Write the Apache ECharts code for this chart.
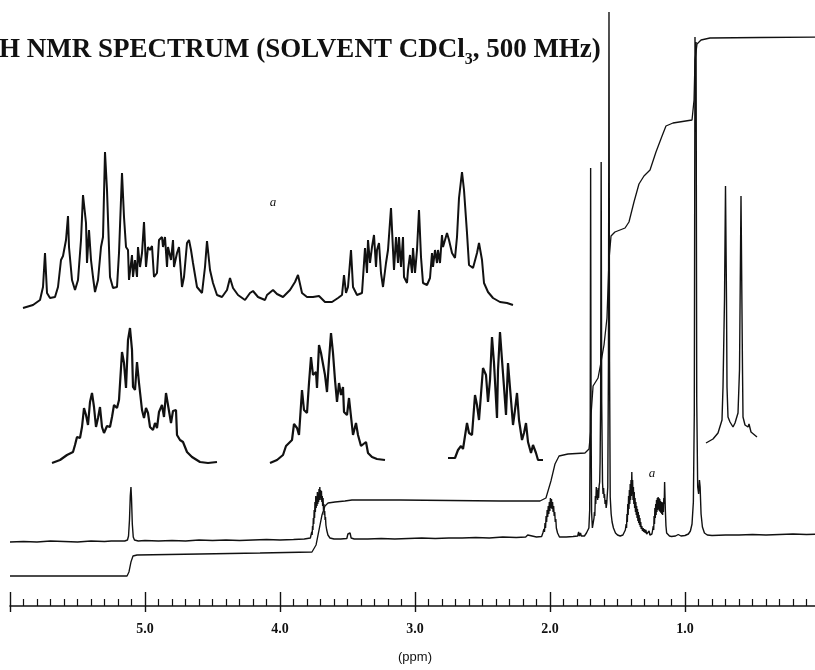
<!DOCTYPE html>
<html>
<head>
<meta charset="utf-8">
<script src="https://cdn.jsdelivr.net/npm/echarts@6/dist/echarts.min.js"></script>
<style>
  html, body { margin: 0; padding: 0; background: #fff; }
  #chart { width: 815px; height: 670px; }
</style>
</head>
<body>
<div id="chart"></div>
<script>
// ppm tick labels on the chemical-shift axis
const ppmTicks = [5.0, 4.0, 3.0, 2.0, 1.0];

// Full 1H spectrum: [shift / ppm, intensity]
const spectrum = [
  [6.00, 0], [5.90, 0.5], [5.80, 0], [5.70, 1], [5.60, 0.5], [5.50, 0], [5.40, 1], [5.30, 0.5],
  [5.25, 1], [5.15, 1], [5.130, 2], [5.122, 6], [5.115, 22], [5.109, 46], [5.104, 55], [5.100, 44],
  [5.094, 18], [5.087, 5], [5.078, 2], [5.05, 1], [5.00, 1.5], [4.90, 1], [4.80, 1.5], [4.70, 1],
  [4.60, 2], [4.50, 1.5], [4.40, 2], [4.30, 1.5], [4.20, 2], [4.10, 2.5], [4.00, 2], [3.90, 2.5],
  [3.82, 3], [3.775, 4],
  [3.768, 6], [3.765, 10], [3.762, 7], [3.759, 16], [3.756, 12], [3.753, 24], [3.750, 18], [3.747, 32],
  [3.744, 24], [3.741, 40], [3.738, 30], [3.735, 46], [3.732, 34], [3.729, 44], [3.726, 36], [3.723, 50],
  [3.720, 38], [3.717, 48], [3.714, 40], [3.711, 53], [3.708, 42], [3.705, 55], [3.702, 44], [3.699, 52],
  [3.696, 42], [3.693, 51], [3.690, 40], [3.687, 46], [3.684, 36], [3.681, 44], [3.678, 32], [3.675, 38],
  [3.672, 27], [3.669, 31], [3.666, 22], [3.663, 25], [3.660, 17], [3.657, 19], [3.654, 12], [3.650, 10],
  [3.645, 7], [3.638, 5], [3.630, 4],
  [3.60, 3], [3.55, 3], [3.505, 3.5], [3.497, 8],
  [3.489, 10], [3.481, 9], [3.473, 4], [3.45, 3], [3.35, 3], [3.25, 3.5], [3.15, 3], [3.05, 3.5],
  [2.95, 4], [2.85, 3.5], [2.75, 4], [2.65, 4], [2.55, 4.5], [2.45, 4], [2.35, 5], [2.25, 4.5],
  [2.18, 5], [2.165, 7], [2.155, 5], [2.10, 5], [2.062, 5.5],
  [2.058, 6], [2.053, 9], [2.049, 7], [2.045, 13], [2.041, 10], [2.037, 19], [2.033, 14], [2.029, 26],
  [2.025, 20], [2.021, 32], [2.017, 25], [2.013, 36], [2.009, 28], [2.005, 40], [2.001, 31], [1.997, 44],
  [1.993, 34], [1.989, 43], [1.985, 33], [1.981, 40], [1.977, 30], [1.973, 36], [1.969, 26], [1.965, 30],
  [1.961, 20], [1.957, 23], [1.953, 14], [1.949, 15], [1.944, 9], [1.938, 7], [1.930, 5],
  [1.88, 5], [1.83, 5.5], [1.795, 6],
  [1.788, 10], [1.782, 6], [1.774, 9], [1.768, 6], [1.756, 8], [1.745, 6], [1.730, 9], [1.720, 10],
  [1.712, 14], [1.706, 32], [1.702, 130], [1.699, 374], [1.696, 130], [1.692, 30], [1.686, 14],
  [1.678, 16], [1.674, 24], [1.671, 30], [1.668, 26], [1.664, 46], [1.661, 38], [1.657, 55], [1.654, 44],
  [1.650, 52], [1.647, 42], [1.643, 54], [1.640, 44], [1.636, 56], [1.632, 60], [1.629, 80],
  [1.625, 140], [1.621, 380], [1.617, 140], [1.611, 60], [1.607, 48], [1.603, 54], [1.599, 44], [1.596, 48],
  [1.592, 38], [1.588, 42], [1.584, 34], [1.580, 38],
  [1.572, 55], [1.567, 180], [1.563, 530], [1.559, 180], [1.554, 45], [1.547, 28], [1.540, 20], [1.530, 14],
  [1.515, 9], [1.500, 7], [1.480, 6], [1.460, 7],
  [1.446, 8], [1.442, 12], [1.439, 10], [1.436, 18], [1.433, 14], [1.430, 28], [1.427, 20], [1.424, 38],
  [1.421, 27], [1.418, 46], [1.415, 33], [1.412, 52], [1.409, 38], [1.406, 58], [1.403, 42], [1.400, 62],
  [1.397, 46], [1.394, 70], [1.391, 48], [1.388, 62], [1.385, 42], [1.382, 55], [1.379, 38], [1.376, 50],
  [1.373, 34], [1.370, 44], [1.367, 30], [1.364, 40], [1.361, 27], [1.358, 36], [1.355, 24], [1.352, 33],
  [1.349, 21], [1.346, 30], [1.343, 19], [1.340, 27], [1.337, 17], [1.334, 24], [1.331, 15], [1.328, 20],
  [1.324, 13], [1.320, 16], [1.315, 11], [1.310, 14], [1.305, 10], [1.300, 13], [1.295, 9], [1.290, 12],
  [1.284, 8], [1.278, 10], [1.272, 7], [1.266, 11], [1.260, 7], [1.252, 8],
  [1.245, 8], [1.241, 11], [1.238, 9], [1.235, 16], [1.232, 12], [1.229, 26], [1.226, 18], [1.223, 34],
  [1.220, 24], [1.217, 38], [1.214, 27], [1.211, 42], [1.208, 30], [1.205, 44], [1.202, 32], [1.199, 45],
  [1.196, 33], [1.193, 44], [1.190, 31], [1.187, 43], [1.184, 30], [1.181, 41], [1.178, 29], [1.175, 40],
  [1.172, 28], [1.169, 39], [1.166, 27], [1.163, 40], [1.160, 30], [1.157, 44], [1.154, 38], [1.151, 60],
  [1.148, 44], [1.145, 30], [1.141, 16], [1.136, 9], [1.128, 7], [1.115, 6],
  [1.100, 5.5], [1.070, 6], [1.050, 7.5], [1.030, 6], [1.000, 6.5],
  [0.975, 8], [0.960, 11], [0.948, 18], [0.938, 40], [0.931, 130], [0.926, 505], [0.922, 420], [0.918, 500],
  [0.913, 140], [0.906, 55], [0.899, 48], [0.893, 62], [0.888, 55], [0.881, 28], [0.871, 15], [0.856, 9],
  [0.835, 7], [0.80, 6.5], [0.70, 7], [0.60, 7], [0.50, 7.5], [0.40, 7], [0.30, 7.5], [0.20, 8],
  [0.10, 7.5], [0.00, 8]
];

// Running integral over the full spectrum: [shift / ppm, integral height]
const integral = [
  [6.00, -34], [5.133, -34], [5.119, -30], [5.104, -20], [5.089, -14], [5.059, -13], [4.593, -12],
  [4.148, -11], [3.763, -10], [3.733, -3], [3.711, 12], [3.689, 27], [3.667, 36], [3.644, 39],
  [3.593, 40], [3.519, 41], [3.467, 42], [3.111, 42], [2.370, 41], [2.074, 41], [2.030, 44],
  [1.993, 61], [1.963, 78], [1.933, 86], [1.867, 88], [1.741, 89], [1.711, 93], [1.699, 110],
  [1.696, 127], [1.681, 156], [1.644, 164], [1.622, 180], [1.600, 197], [1.578, 224], [1.563, 282],
  [1.548, 306], [1.519, 310], [1.444, 314], [1.415, 320], [1.378, 340], [1.341, 358], [1.304, 366],
  [1.259, 372], [1.215, 390], [1.170, 406], [1.141, 416], [1.089, 419], [0.948, 422], [0.933, 442],
  [0.926, 482], [0.911, 498], [0.881, 502], [0.815, 504], [0.444, 504.5], [0.000, 505]
];

// Expansion "a": 1.50-1.01 ppm, [shift / ppm, intensity]
const expansionA = [
  [1.500, 0], [1.490, 3], [1.483, 8], [1.480, 21], [1.478, 55], [1.476, 15], [1.473, 10], [1.468, 11],
  [1.465, 21], [1.462, 48], [1.460, 52], [1.457, 68], [1.455, 92], [1.454, 61], [1.451, 28], [1.448, 18],
  [1.445, 28], [1.442, 68], [1.440, 113], [1.437, 85], [1.436, 45], [1.434, 78], [1.432, 48], [1.430, 31],
  [1.428, 16], [1.425, 28], [1.422, 61], [1.420, 71], [1.418, 156], [1.416, 118], [1.413, 31], [1.410, 20],
  [1.406, 21], [1.404, 55], [1.401, 135], [1.399, 91], [1.397, 61], [1.395, 58], [1.394, 28], [1.391, 53],
  [1.390, 31], [1.388, 48], [1.386, 31], [1.385, 61], [1.383, 41], [1.381, 55], [1.379, 86], [1.377, 41],
  [1.375, 61], [1.373, 58], [1.371, 62], [1.369, 31], [1.366, 35], [1.364, 68], [1.361, 71], [1.360, 61],
  [1.358, 71], [1.356, 41], [1.355, 61], [1.352, 48], [1.350, 68], [1.349, 41], [1.346, 55], [1.344, 61],
  [1.341, 21], [1.339, 31], [1.336, 65], [1.334, 68], [1.332, 58], [1.330, 45], [1.326, 21], [1.321, 15],
  [1.318, 41], [1.316, 67], [1.313, 38], [1.310, 25], [1.306, 13], [1.301, 11], [1.296, 18], [1.293, 30],
  [1.290, 20], [1.285, 13], [1.278, 8], [1.273, 15], [1.270, 17], [1.265, 11], [1.258, 8], [1.256, 13],
  [1.250, 18], [1.246, 14], [1.240, 11], [1.233, 18], [1.228, 26], [1.225, 33], [1.221, 15], [1.216, 11],
  [1.210, 11], [1.204, 12], [1.198, 6], [1.191, 6], [1.185, 10], [1.181, 13], [1.179, 33], [1.177, 15],
  [1.175, 21], [1.172, 58], [1.170, 21], [1.166, 13], [1.161, 15], [1.158, 60], [1.156, 35], [1.155, 68],
  [1.153, 45], [1.151, 61], [1.149, 73], [1.147, 41], [1.146, 58], [1.144, 65], [1.142, 35], [1.140, 21],
  [1.137, 45], [1.135, 58], [1.132, 100], [1.130, 58], [1.129, 38], [1.127, 71], [1.125, 45], [1.124, 71],
  [1.122, 41], [1.120, 71], [1.119, 31], [1.116, 25], [1.115, 38], [1.113, 53], [1.111, 35], [1.110, 60],
  [1.108, 35], [1.106, 58], [1.104, 98], [1.102, 51], [1.100, 25], [1.096, 23], [1.093, 30], [1.091, 55],
  [1.090, 41], [1.088, 58], [1.086, 45], [1.085, 58], [1.083, 45], [1.081, 73], [1.080, 61], [1.078, 68],
  [1.076, 75], [1.074, 68], [1.071, 55], [1.068, 50], [1.066, 71], [1.064, 110], [1.062, 111], [1.061, 136],
  [1.059, 118], [1.056, 75], [1.054, 43], [1.050, 40], [1.046, 55], [1.044, 65], [1.041, 48], [1.039, 25],
  [1.035, 16], [1.030, 10], [1.023, 6], [1.016, 5], [1.010, 3]
];

// Expanded multiplets: [offset / Hz, intensity]
const multiplet510 = [
  [0, 1], [1.6, 4], [3.0, 9], [4.2, 12], [4.6, 19], [5.0, 27], [5.6, 26], [6.0, 37], [6.4, 56], [6.8, 49],
  [7.2, 39], [7.6, 62], [8.0, 71], [8.4, 57], [8.8, 37], [9.2, 46], [9.6, 57], [10.0, 37], [10.4, 31],
  [11.0, 38], [11.6, 37], [12.0, 47], [12.4, 59], [13.0, 56], [13.4, 64], [14.0, 112], [14.4, 101],
  [14.8, 76], [15.2, 124], [15.6, 136], [16.0, 114], [16.2, 77], [16.6, 74], [17.0, 102], [17.4, 81],
  [18.0, 54], [18.4, 46], [18.8, 56], [19.2, 51], [19.6, 37], [20.2, 34], [20.6, 41], [21.0, 36],
  [21.4, 52], [22.0, 59], [22.4, 47], [22.8, 71], [23.2, 69], [23.8, 41], [24.2, 53], [24.8, 54],
  [25.0, 29], [25.6, 24], [26.2, 22], [27.0, 12], [28.0, 7], [29.6, 2], [31.2, 1], [33.0, 2]
];
const multiplet370 = [
  [0, 1], [1.4, 4], [2.6, 9], [3.2, 18], [3.6, 16], [4.4, 24], [4.8, 40], [5.4, 36], [5.8, 29], [6.4, 74],
  [6.8, 54], [7.4, 51], [7.8, 81], [8.2, 107], [8.6, 89], [9.2, 92], [9.4, 76], [9.8, 119], [10.2, 111],
  [10.6, 112], [11.0, 89], [11.4, 72], [11.8, 104], [12.2, 131], [12.6, 111], [13.0, 84], [13.4, 62],
  [13.8, 81], [14.2, 69], [14.6, 77], [14.8, 52], [15.4, 49], [15.8, 66], [16.2, 68], [16.6, 29],
  [17.2, 41], [17.6, 29], [18.2, 18], [18.6, 16], [19.2, 22], [19.6, 11], [20.4, 7], [21.4, 5], [23.0, 4]
];
const multiplet198 = [
  [0, 3], [1.4, 3], [2.0, 11], [2.6, 15], [3.0, 12], [3.8, 38], [4.2, 28], [4.8, 26], [5.4, 66], [5.8, 56],
  [6.2, 41], [7.0, 93], [7.6, 86], [8.0, 59], [8.4, 81], [8.8, 124], [9.2, 98], [9.8, 43], [10.0, 91],
  [10.4, 129], [10.8, 101], [11.2, 74], [11.6, 46], [12.0, 98], [12.6, 61], [13.0, 36], [13.4, 51],
  [13.8, 68], [14.2, 41], [14.8, 21], [15.2, 28], [15.6, 38], [16.0, 19], [16.6, 8], [17.0, 16],
  [17.6, 8], [18.0, 1], [19.0, 1]
];
const doublet092 = [
  [0, 1], [0.4, 2], [1.4, 5], [2.4, 11], [3.2, 24], [3.4, 57], [3.7, 144], [3.9, 258], [4.1, 144],
  [4.2, 57], [4.4, 27], [4.8, 22], [5.4, 17], [5.8, 21], [6.4, 31], [6.7, 74], [7.0, 248], [7.3, 74],
  [7.4, 27], [7.8, 19], [8.4, 17], [8.6, 20], [9.0, 12], [9.4, 11], [10.2, 7]
];

const serif = '"Liberation Serif", "DejaVu Serif", serif';
const ink = '#111';

function traceSeries(data, xIdx, yIdx, width) {
  return {
    type: 'line', data: data, xAxisIndex: xIdx, yAxisIndex: yIdx,
    showSymbol: false, silent: true, smooth: false,
    lineStyle: { color: ink, width: width }
  };
}
function hiddenX(g, min, max, inverse) {
  return { type: 'value', gridIndex: g, min: min, max: max, inverse: !!inverse, show: false };
}
function hiddenY(g, min, max) {
  return { type: 'value', gridIndex: g, min: min, max: max, show: false };
}

const chart = echarts.init(document.getElementById('chart'), null, { renderer: 'canvas' });

chart.setOption({
  animation: false,
  backgroundColor: '#fff',
  grid: [
    { left: 10, top: 0, width: 810, height: 606, outerBoundsMode: 'none' },
    { left: 23, top: 0, width: 490, height: 308, outerBoundsMode: 'none' },
    { left: 52, top: 0, width: 165, height: 464, outerBoundsMode: 'none' },
    { left: 270, top: 0, width: 115, height: 464, outerBoundsMode: 'none' },
    { left: 448, top: 0, width: 95, height: 461, outerBoundsMode: 'none' },
    { left: 706, top: 0, width: 51, height: 444, outerBoundsMode: 'none' }
  ],
  xAxis: [
    {
      type: 'value', gridIndex: 0, min: 0, max: 6, interval: 1, inverse: true, position: 'bottom',
      axisLine: { show: true, onZero: false, lineStyle: { color: ink, width: 1.6 } },
      axisTick: { show: true, inside: true, length: 14, lineStyle: { color: ink, width: 1.4 } },
      minorTick: { show: true, splitNumber: 10, length: 7, lineStyle: { color: ink, width: 1.2 } },
      splitLine: { show: false },
      axisLabel: {
        margin: 16, fontSize: 14, fontWeight: 'bold', fontFamily: serif, color: ink,
        formatter: function (v) {
          const t = ppmTicks.find(function (p) { return Math.abs(p - v) < 1e-6; });
          return t === undefined ? '' : t.toFixed(1);
        }
      },
      name: '(ppm)', nameLocation: 'middle', nameGap: 45,
      nameTextStyle: { fontSize: 13, fontFamily: '"Liberation Sans", Arial, sans-serif', color: ink }
    },
    {
      type: 'value', gridIndex: 0, min: 0, max: 6, interval: 1, inverse: true, position: 'bottom',
      axisLine: { show: false, onZero: false },
      axisTick: { show: true, inside: false, length: 6, lineStyle: { color: ink, width: 1.4 } },
      axisLabel: { show: false }, splitLine: { show: false }
    },
    hiddenX(1, 1.010, 1.500, true),
    hiddenX(2, 0, 33),
    hiddenX(3, 0, 23),
    hiddenX(4, 0, 19),
    hiddenX(5, 0, 10.2)
  ],
  yAxis: [
    hiddenY(0, -64, 542),
    hiddenY(1, 0, 308),
    hiddenY(2, 0, 464),
    hiddenY(3, 0, 464),
    hiddenY(4, 0, 461),
    hiddenY(5, 0, 444)
  ],
  series: [
    traceSeries(spectrum, 0, 0, 1.4),
    traceSeries(integral, 0, 0, 1.3),
    traceSeries(expansionA, 2, 1, 2.0),
    traceSeries(multiplet510, 3, 2, 2.2),
    traceSeries(multiplet370, 4, 3, 2.2),
    traceSeries(multiplet198, 5, 4, 2.2),
    traceSeries(doublet092, 6, 5, 1.4)
  ],
  graphic: [
    {
      type: 'text', left: -9, top: 37, silent: true,
      style: {
        text: '{b|\u00b9H NMR SPECTRUM (SOLVENT CDCl}{s|3}{b|, 500 MHz)}',
        rich: {
          b: { fontSize: 27, fontWeight: 'bold', fontFamily: serif, fill: ink, verticalAlign: 'bottom' },
          s: { fontSize: 16, fontWeight: 'bold', fontFamily: serif, fill: ink, verticalAlign: 'bottom', padding: [0, 0, -4, 0] }
        }
      }
    },
    {
      type: 'text', x: 273, y: 203, silent: true,
      style: { text: 'a', font: 'italic 13px ' + serif, fill: ink, align: 'center', verticalAlign: 'middle' }
    },
    {
      type: 'text', x: 652, y: 474, silent: true,
      style: { text: 'a', font: 'italic 13px ' + serif, fill: ink, align: 'center', verticalAlign: 'middle' }
    }
  ]
});
</script>
</body>
</html>
